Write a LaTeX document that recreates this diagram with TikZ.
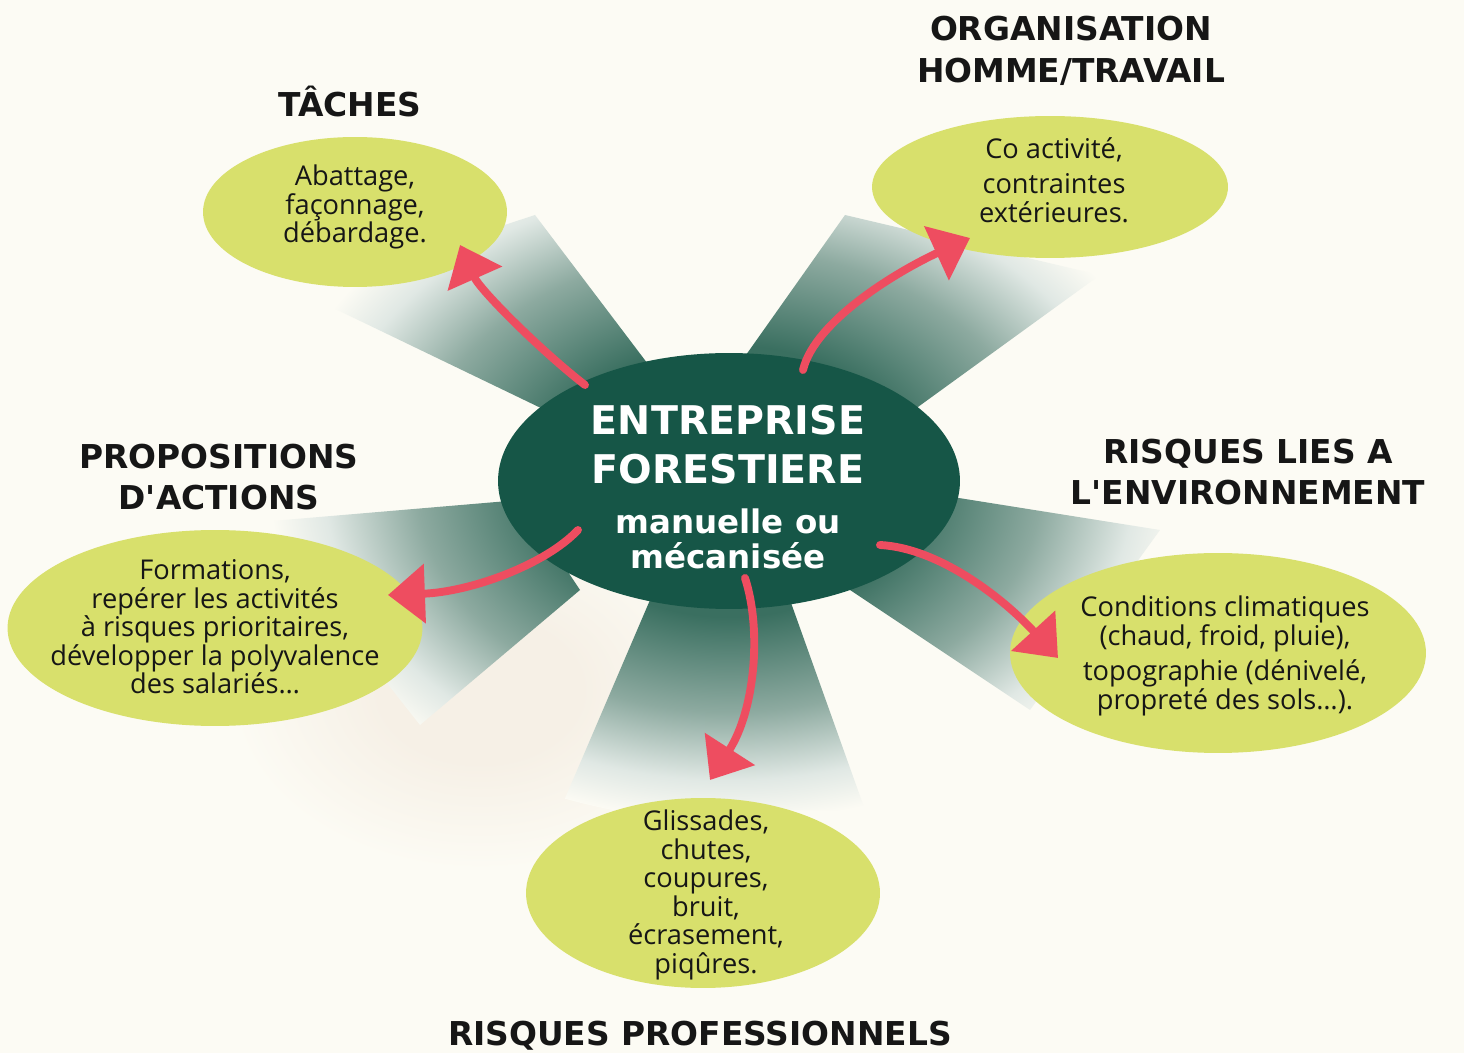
\documentclass[tikz,border=0pt]{standalone}
\usepackage{fontspec}
\setmainfont{Open Sans}
\newfontfamily\headfont{DejaVu Sans}
\usetikzlibrary{arrows.meta,shapes.geometric}
\definecolor{bg}{HTML}{FCFBF4}
\definecolor{beige}{HTML}{F6F0E6}
\definecolor{lime}{HTML}{D8E06C}
\definecolor{forest}{HTML}{165647}
\definecolor{arrred}{HTML}{EE4D60}
\definecolor{beamdark}{HTML}{3A6F60}
\definecolor{beammid}{HTML}{8DAAA0}
\definecolor{beamlight}{HTML}{E0E8E4}
\definecolor{ink}{HTML}{161616}
\pgfdeclareradialshading{beamfade}{\pgfpointorigin}{color(0bp)=(beamdark); color(10bp)=(beamdark); color(17bp)=(beammid); color(22bp)=(beamlight); color(25bp)=(bg); color(50bp)=(bg)}
\pgfdeclareradialshading{patchfade}{\pgfpointorigin}{color(0bp)=(beige); color(10bp)=(beige); color(25bp)=(bg); color(50bp)=(bg)}
\begin{document}
\begin{tikzpicture}[x=0.02cm,y=-0.02cm,
  limeell/.style={ellipse, fill=lime, inner sep=0pt},
  body/.style={align=center, inner sep=0pt, text=ink, font=\fontsize{15.5}{16.2}\selectfont},
  ttl/.style={align=center, inner sep=0pt, text=ink, font=\headfont\fontsize{18.7}{23.8}\selectfont\bfseries},
  redarr/.style={draw=arrred, line width=4.5pt, line cap=round, -{Triangle[length=21pt,width=33pt]}}
]
\useasboundingbox (0,0) rectangle (1464,1053);
\fill[bg] (0,0) rectangle (1464,1053);
\shade[shading=patchfade] (480,690) ellipse [x radius=5cm, y radius=3.6cm];

% beams
\begin{scope}
\clip (545,410) -- (300,292) -- (535,215) -- (660,380) -- cycle
      (700,420) -- (845,215) -- (1100,275) -- (900,420) -- cycle
      (520,500) -- (260,522) -- (420,725) -- (580,590) -- cycle
      (940,495) -- (1160,530) -- (1030,710) -- (850,590) -- cycle
      (650,600) -- (560,810) -- (865,810) -- (790,600) -- cycle;
\shade[shading=beamfade] (729,481) ellipse [x radius=9.2cm, y radius=6.8cm];
\end{scope}

% outer ellipses
\node[limeell, minimum width=6.08cm, minimum height=3.0cm] (tach) at (355,212) {};
\node[limeell, minimum width=7.12cm, minimum height=2.84cm] (orga) at (1050,187) {};
\node[limeell, minimum width=8.3cm, minimum height=3.92cm] (prop) at (215,628) {};
\node[limeell, minimum width=8.32cm, minimum height=4.0cm] (envi) at (1218,653) {};
\node[limeell, minimum width=7.08cm, minimum height=3.8cm] (prof) at (703,893) {};

% centre
\node[ellipse, fill=forest, inner sep=0pt, minimum width=9.24cm, minimum height=5.12cm] (ent) at (729,481) {};

% texts in ellipses
\node[body] (tachT) at (355,207) {Abattage,\\façonnage,\\débardage.};
\node[body] (orgaT) at (1054,180) {Co activité,\\[4pt]contraintes\\extérieures.};
\node[body] (propT) at (215,627) {Formations,\\repérer les activités\\à risques prioritaires,\\développer la polyvalence\\des salariés\dots};
\node[body] (enviT) at (1225,656) {Conditions climatiques\\(chaud, froid, pluie),\\[4pt]topographie (dénivelé,\\propreté des sols\dots).};
\node[body] (profT) at (706,895) {Glissades,\\chutes,\\coupures,\\bruit,\\écrasement,\\piqûres.};
\node[align=center, inner sep=0pt, text=white, font=\headfont\fontsize{22.5}{28}\selectfont\bfseries] (entT) at (728,487)
  {ENTREPRISE\\FORESTIERE\\\fontsize{18.5}{28}\selectfont manuelle ou\\[-8pt]\fontsize{18.5}{28}\selectfont mécanisée};

% titles
\node[ttl] (tachH) at (350,102) {TÂCHES};
\node[ttl] (orgaH) at (1071,51) {ORGANISATION\\HOMME/TRAVAIL};
\node[ttl] (propH) at (219,477) {PROPOSITIONS\\D'ACTIONS};
\node[ttl] (enviH) at (1248,472) {RISQUES LIES A\\L'ENVIRONNEMENT};
\node[ttl] (profH) at (700,1036) {RISQUES PROFESSIONNELS};

% arrows
\coordinate (sT) at (585,385);  \coordinate (eT) at (460,245);
\coordinate (sO) at (803,370);  \coordinate (eO) at (970,238);
\coordinate (sP) at (578,530);  \coordinate (eP) at (388,595);
\coordinate (sE) at (880,545);  \coordinate (eE) at (1058,658);
\coordinate (sR) at (745,578);  \coordinate (eR) at (710,780);
\draw[redarr] (sT) .. controls (540,350) and (480,290) .. (eT);
\draw[redarr] (sO) .. controls (815,320) and (900,270) .. (eO);
\draw[redarr] (sP) .. controls (545,565) and (470,592) .. (eP);
\draw[redarr] (sE) .. controls (940,548) and (1005,600) .. (eE);
\draw[redarr] (sR) .. controls (762,630) and (755,710) .. (eR);
\end{tikzpicture}
\end{document}
